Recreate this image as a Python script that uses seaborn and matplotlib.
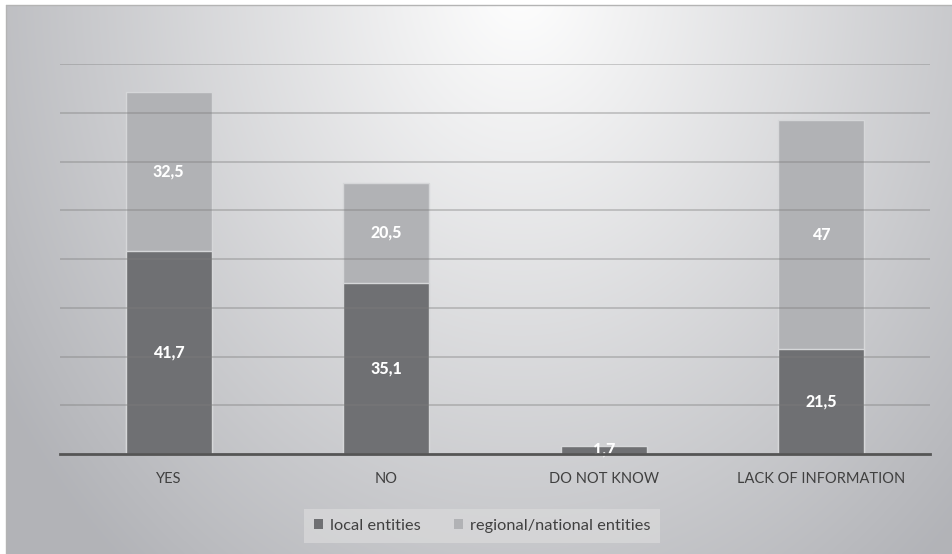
import numpy as np
import pandas as pd
import matplotlib
matplotlib.use("Agg")
import matplotlib.pyplot as plt
import seaborn as sns
from matplotlib.patches import Patch

# data
categories = ["YES", "NO", "DO NOT KNOW", "LACK OF INFORMATION"]
local_vals = [41.7, 35.1, 1.7, 21.5]
regional_vals = [32.5, 20.5, 0.0, 47.0]
series_names = ["local entities", "regional/national entities"]

dark = "#6f7073"
light = "#b1b2b5"
edge = "#d6d7d9"

sns.set_theme(style="white")
plt.rcParams["font.family"] = ["Lato", "DejaVu Sans"]

df = pd.DataFrame({"category": categories, "local": local_vals, "regional": regional_vals})
df["total"] = df["local"] + df["regional"]

fig = plt.figure(figsize=(9.53, 5.54), dpi=100)

# gradient background (radial, light at top centre)
bg = fig.add_axes([0, 0, 1, 1], zorder=-10)
W, H = 953, 554
xx, yy = np.meshgrid(np.arange(W), np.arange(H))
r = np.sqrt(((xx - 520) / 560.0) ** 2 + ((yy + 20) / 700.0) ** 2)
r = np.clip(r, 0, 1.1)
img = np.ones((H, W, 3))
img[..., 0] = (255 - 70 * r) / 255
img[..., 1] = (255 - 69 * r) / 255
img[..., 2] = (255 - 65 * r) / 255
mask = (xx < 6) | (yy < 5)
img[mask] = 1.0
bg.imshow(img, aspect="auto", extent=[0, W, H, 0], interpolation="bilinear")
bg.plot([6, W], [5, 5], color="#b4b4b4", lw=1)
bg.plot([6, 6], [5, H], color="#b4b4b4", lw=1)
bg.set_xlim(0, W)
bg.set_ylim(H, 0)
bg.axis("off")

ax = fig.add_axes([60 / 953, 1 - 454 / 554, 870 / 953, 390 / 554])
ax.patch.set_alpha(0)

sns.barplot(data=df, x="category", y="total", color=light, width=0.395,
            edgecolor=edge, linewidth=1, saturation=1, ax=ax)
sns.barplot(data=df, x="category", y="local", color=dark, width=0.395,
            edgecolor=edge, linewidth=1, saturation=1, ax=ax)

# value labels
def fmt(v):
    return ("%g" % v).replace(".", ",")

for i, row in df.iterrows():
    if row["local"] > 0:
        ax.text(i, row["local"] / 2, fmt(row["local"]), ha="center", va="center",
                color="white", fontsize=11.5, fontweight="black", zorder=5)
    if row["regional"] > 0:
        ax.text(i, row["local"] + row["regional"] / 2, fmt(row["regional"]),
                ha="center", va="center", color="white", fontsize=11.5,
                fontweight="black", zorder=5)

ax.set_ylim(0, 80)
ax.set_xlim(-0.5, 3.5)
ax.set_yticks(np.arange(10, 81, 10))
ax.set_axisbelow(False)
ax.yaxis.grid(True, color="#7d7d7d", alpha=0.4, lw=1.3)
ax.xaxis.grid(False)
ax.set_yticklabels([])
ax.tick_params(axis="y", length=0)
ax.tick_params(axis="x", length=0, pad=13, labelsize=10.5, labelcolor="#404040")
ax.set_xlabel("")
ax.set_ylabel("")
for s in ["top", "right", "left"]:
    ax.spines[s].set_visible(False)
ax.spines["bottom"].set_color("#555555")
ax.spines["bottom"].set_linewidth(2)
ax.spines["bottom"].set_zorder(6)

handles = [Patch(facecolor=dark, edgecolor="none"), Patch(facecolor=light, edgecolor="none")]
leg = fig.legend(handles, series_names, loc="center", bbox_to_anchor=(482 / 953, 1 - 526 / 554),
                 ncol=2, frameon=True, fontsize=11.8, handlelength=0.6, handleheight=0.6,
                 handletextpad=0.4, columnspacing=2.0, borderpad=0.6, borderaxespad=0,
                 fancybox=False)
leg.get_frame().set_facecolor("#dadadb")
leg.get_frame().set_edgecolor("none")
leg.get_frame().set_alpha(0.7)
for t in leg.get_texts():
    t.set_color("#404040")

fig.savefig("out.png", dpi=100)
